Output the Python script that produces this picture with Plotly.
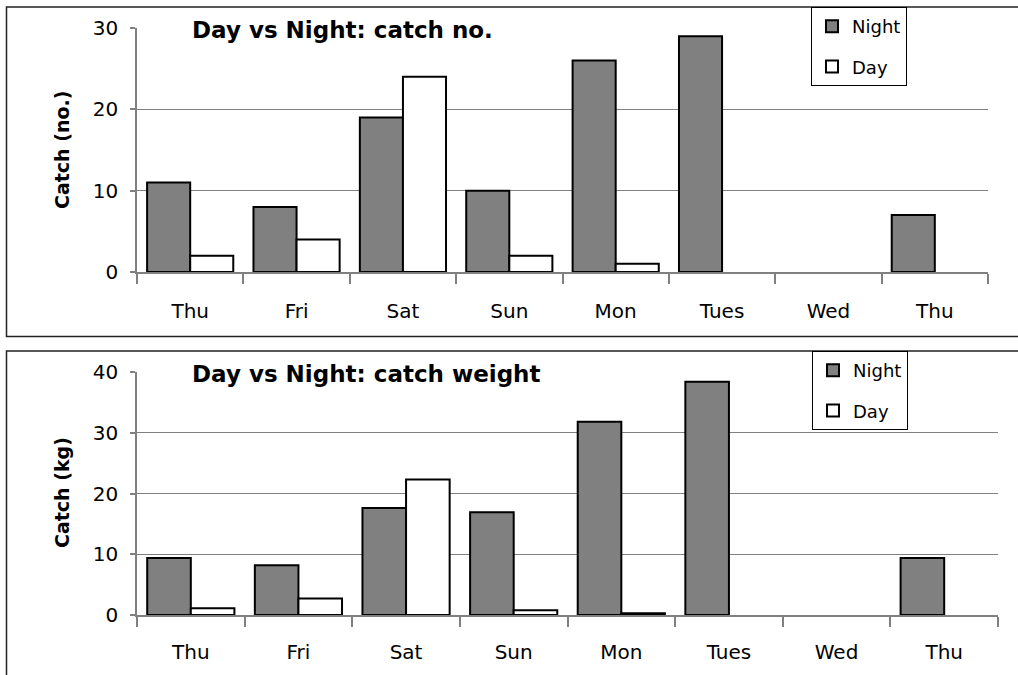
import plotly.graph_objects as go

# ---- data ----
days = ["Thu", "Fri", "Sat", "Sun", "Mon", "Tues", "Wed", "Thu"]
night_no = [11, 8, 19, 10, 26, 29, None, 7]
day_no = [2, 4, 24, 2, 1, None, None, None]
night_kg = [9.4, 8.2, 17.6, 16.9, 31.8, 38.4, None, 9.4]
day_kg = [1.1, 2.7, 22.3, 0.8, 0.3, None, None, None]
yticks_no = [0, 10, 20, 30]
yticks_kg = [0, 10, 20, 30, 40]

W, H = 1018, 675
def fx(p):
    return p / W
def fy(p):
    return 1 - p / H

idx = list(range(len(days)))
FONT = "DejaVu Sans"
GRAY = "#808080"
AX = "#808080"

fig = go.Figure()

def add_pair(xa, ya, night, day, legend):
    fig.add_trace(go.Bar(x=idx, y=night, name="Night", xaxis=xa, yaxis=ya,
                         marker=dict(color=GRAY, line=dict(color="black", width=2)),
                         legend=legend, legendgroup=legend + "n"))
    fig.add_trace(go.Bar(x=idx, y=day, name="Day", xaxis=xa, yaxis=ya,
                         marker=dict(color="white", line=dict(color="black", width=2)),
                         legend=legend, legendgroup=legend + "d"))

add_pair("x", "y", night_no, day_no, "legend")
add_pair("x2", "y2", night_kg, day_kg, "legend2")

def xaxis_cfg(domain, anchor, standoff):
    return dict(domain=domain, anchor=anchor, range=[-0.5, len(days) - 0.5],
                automargin=False,
                tickmode="array", tickvals=idx, ticktext=days, ticks="",
                showgrid=False, zeroline=False, showline=True, linecolor=AX, linewidth=1.5,
                layer="below traces",
                minor=dict(ticks="outside", ticklen=10, tickcolor=AX, tickwidth=1.5,
                           tick0=0.5, dtick=1, showgrid=False),
                ticklabelstandoff=standoff,
                tickfont=dict(family=FONT, size=20, color="black"))

def yaxis_cfg(domain, anchor, rng, tv):
    return dict(domain=domain, anchor=anchor, range=rng, tickmode="array", tickvals=tv,
                automargin=False,
                ticks="outside", ticklen=5, tickcolor=AX, tickwidth=1.5,
                showline=True, linecolor=AX, linewidth=1.5, zeroline=False,
                showgrid=True, gridcolor=GRAY, gridwidth=1,
                ticklabelstandoff=8, layer="below traces",
                tickfont=dict(family=FONT, size=20, color="black"))

fig.update_layout(
    template="none",
    width=W, height=H, margin=dict(l=0, r=0, t=0, b=0, pad=0),
    paper_bgcolor="white", plot_bgcolor="white",
    barmode="group", bargap=0.19, bargroupgap=0,
    xaxis=xaxis_cfg([fx(137), fx(988)], "y", 20),
    yaxis=yaxis_cfg([fy(272), fy(28)], "x", [0, 30], yticks_no),
    xaxis2=xaxis_cfg([fx(137), fx(998)], "y2", 18),
    yaxis2=yaxis_cfg([fy(615), fy(372)], "x2", [0, 40], yticks_kg),
    legend=dict(x=fx(811), y=fy(7), xanchor="left", yanchor="top",
                bgcolor="white", bordercolor="black", borderwidth=1,
                font=dict(family=FONT, size=18, color="black"),
                traceorder="grouped", tracegroupgap=14),
    legend2=dict(x=fx(812), y=fy(351), xanchor="left", yanchor="top",
                 bgcolor="white", bordercolor="black", borderwidth=1,
                 font=dict(family=FONT, size=18, color="black"),
                 traceorder="grouped", tracegroupgap=14),
)

# panel borders
fig.add_shape(type="rect", xref="paper", yref="paper", x0=fx(6.5), x1=fx(1030),
              y0=fy(336.5), y1=fy(7), line=dict(color="#222222", width=1.5), layer="below")
fig.add_shape(type="rect", xref="paper", yref="paper", x0=fx(6.5), x1=fx(1030),
              y0=fy(690), y1=fy(351), line=dict(color="#222222", width=1.5), layer="below")

# chart titles
fig.add_annotation(text="<b>Day vs Night: catch no.</b>", xref="paper", yref="paper",
                   x=fx(190), y=fy(30), xanchor="left", yanchor="middle", showarrow=False,
                   font=dict(family=FONT, size=23, color="black"))
fig.add_annotation(text="<b>Day vs Night: catch weight</b>", xref="paper", yref="paper",
                   x=fx(190), y=fy(374), xanchor="left", yanchor="middle", showarrow=False,
                   font=dict(family=FONT, size=23, color="black"))

# y axis titles
fig.add_annotation(text="<b>Catch (no.)</b>", xref="paper", yref="paper",
                   x=fx(62), y=fy(150), xanchor="center", yanchor="middle", showarrow=False,
                   textangle=-90, font=dict(family=FONT, size=19, color="black"))
fig.add_annotation(text="<b>Catch (kg)</b>", xref="paper", yref="paper",
                   x=fx(62), y=fy(493), xanchor="center", yanchor="middle", showarrow=False,
                   textangle=-90, font=dict(family=FONT, size=19, color="black"))

fig.write_html("out.html", config={"displayModeBar": False},
               post_script="document.body.style.margin='0px';document.body.style.overflow='hidden';")
